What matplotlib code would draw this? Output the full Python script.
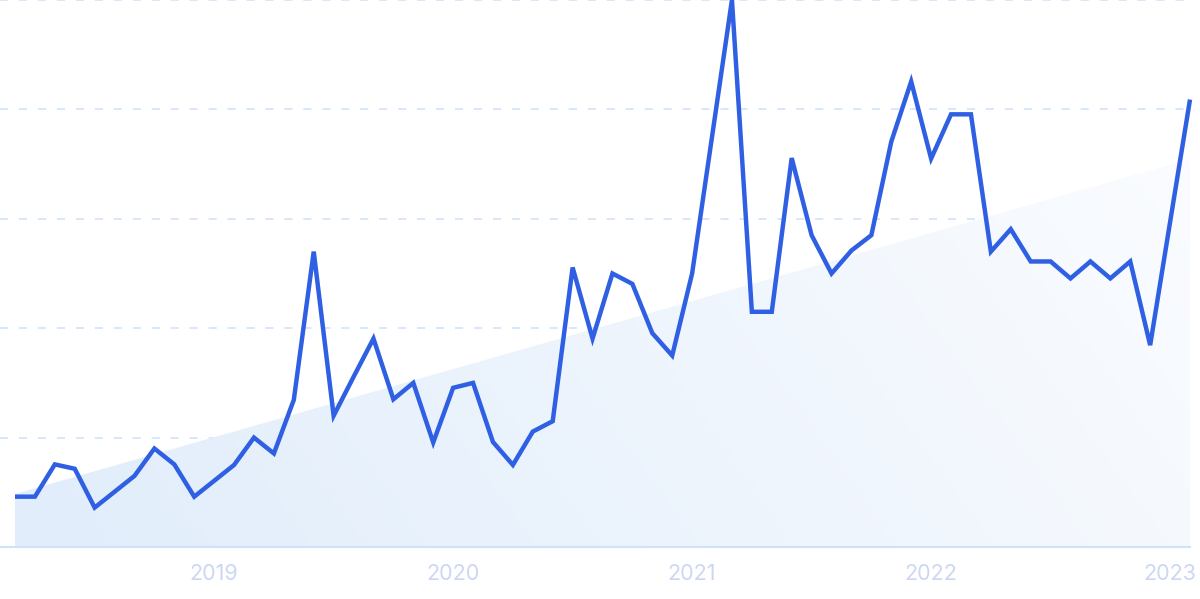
import numpy as np
import matplotlib
matplotlib.use("Agg")
import matplotlib.pyplot as plt
from matplotlib.patches import Polygon
from matplotlib.colors import LinearSegmentedColormap

# Monthly values, Mar 2018 - Feb 2023
values = [9.2, 9.2, 15.1, 14.3, 7.2, 10.1, 13.0, 18.0, 15.1, 9.2,
          12.1, 15.0, 20.0, 17.1, 26.9, 54.0, 24.0, 31.1, 38.1, 27.0,
          30.0, 19.1, 29.1, 30.0, 19.2, 15.0, 21.1, 23.0, 51.1, 38.1,
          50.0, 48.1, 39.1, 35.0, 50.0, 75.0, 100.0, 43.0, 43.0, 71.1,
          57.0, 50.0, 54.2, 57.0, 74.1, 85.1, 71.0, 79.1, 79.1, 54.0,
          58.1, 52.2, 52.2, 49.1, 52.2, 49.1, 52.2, 36.9, 59.4, 81.8]
tick_positions = [10, 22, 34, 46, 58]
tick_labels = ["2019", "2020", "2021", "2022", "2023"]
trend_start = 9.7
trend_end = 70.9

fig = plt.figure(figsize=(12, 5.99), dpi=100)
ax = fig.add_axes([0, 52/599, 1190/1200, 547/599])
x = np.arange(len(values))
ax.set_xlim(-0.753, len(values) - 1)
ax.set_ylim(0, 100)

# gradient trend area
gx, gy = np.meshgrid(np.linspace(0, 1, 200), np.linspace(0, 1, 100))
grad = 0.75 * gx + 0.25 * gy
cmap = LinearSegmentedColormap.from_list("g", ["#e1edfb", "#fcfdff"])
im = ax.imshow(grad, extent=[0, len(values) - 1, 0, 100], origin="lower",
               cmap=cmap, aspect="auto", zorder=1)
poly = Polygon([[0, 0], [0, trend_start], [len(values) - 1, trend_end],
                [len(values) - 1, 0]], closed=True, transform=ax.transData,
               facecolor="none", edgecolor="none")
ax.add_patch(poly)
im.set_clip_path(poly)

for yv in [20, 40, 60, 80, 100]:
    ax.axhline(yv, color="#d5e5fb", lw=1.3, dashes=(4.5, 6), zorder=0, clip_on=False)
ax.axhline(0, color="#cfe2fa", lw=1.5, zorder=2, clip_on=False)

ax.plot(x, values, color="#2f5fe3", lw=3.2, solid_joinstyle="miter",
        solid_capstyle="butt", zorder=3, clip_on=False)

ax.set_xticks(tick_positions)
ax.set_xticklabels(tick_labels, fontfamily="Inter", fontsize=15.5, color="#cdd6f3")
ax.tick_params(axis="x", length=0, pad=12)
ax.set_yticks([])
for s in ax.spines.values():
    s.set_visible(False)

fig.savefig("out.png", dpi=100, facecolor="white")
